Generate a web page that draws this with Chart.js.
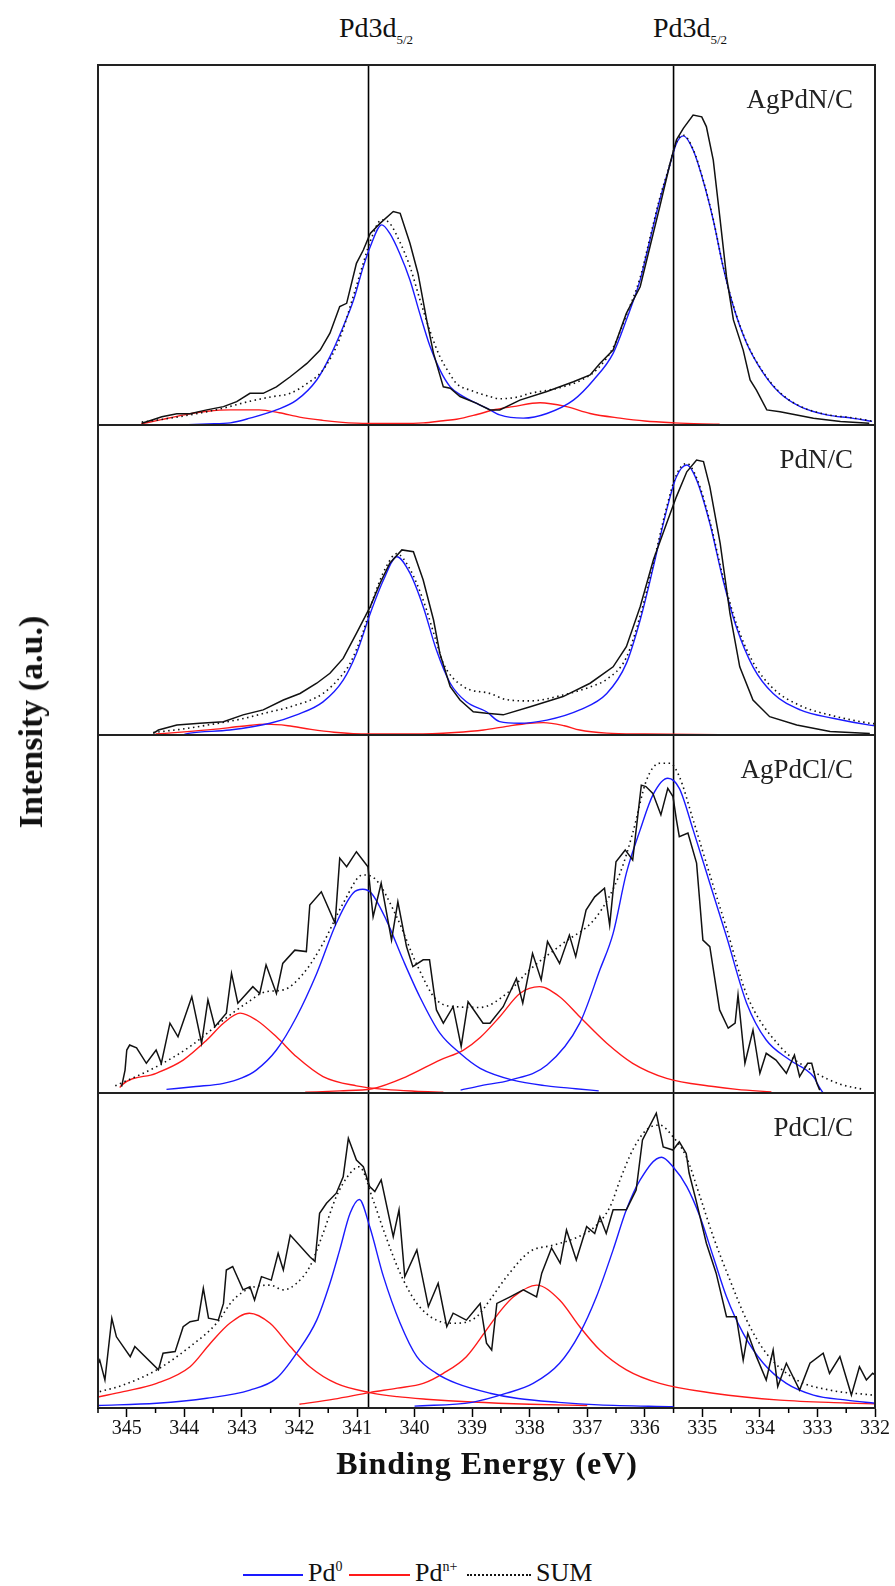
<!DOCTYPE html>
<html>
<head>
<meta charset="utf-8">
<title>Pd3d XPS spectra</title>
<script src="https://cdn.jsdelivr.net/npm/chart.js@4.4.1/dist/chart.umd.min.js"></script>
<style>
  body { margin: 0; background: #fff; }
  #page { position: relative; width: 895px; height: 1586px; overflow: hidden;
          font-family: "Liberation Serif", "Times New Roman", serif; color: #111; }
  canvas.panel { position: absolute; left: 0; }
  .txt { position: absolute; white-space: nowrap; line-height: 1; }
  .lg-line { position: absolute; height: 0; }
</style>
</head>
<body>
<div id="page">
  <canvas class="panel" id="p1"></canvas>
  <canvas class="panel" id="p2"></canvas>
  <canvas class="panel" id="p3"></canvas>
  <canvas class="panel" id="p4"></canvas>

  <div class="txt" style="left:376px;top:30px;font-size:28px;transform:translate(-50%,-50%)">Pd3d<sub style="font-size:13px">5/2</sub></div>
  <div class="txt" style="left:690px;top:30px;font-size:28px;transform:translate(-50%,-50%)">Pd3d<sub style="font-size:13px">5/2</sub></div>

  <div class="txt" id="yTitle" style="left:31px;top:722px;font-size:34px;font-weight:bold;transform:translate(-50%,-50%) rotate(-90deg)">Intensity (a.u.)</div>
  <div class="txt" id="xTitle" style="left:487px;top:1463px;font-size:32px;font-weight:bold;letter-spacing:1px;transform:translate(-50%,-50%)">Binding Energy (eV)</div>

  <div class="lg-line" style="left:243px;top:1574px;width:60px;border-top:2px solid #1a1aff"></div>
  <div class="txt" style="left:308px;top:1560px;font-size:26px">Pd<sup style="font-size:14px">0</sup></div>
  <div class="lg-line" style="left:349px;top:1574px;width:61px;border-top:2px solid #ff1a1a"></div>
  <div class="txt" style="left:415px;top:1560px;font-size:26px">Pd<sup style="font-size:14px">n+</sup></div>
  <div class="lg-line" style="left:467px;top:1574px;width:64px;border-top:2px dotted #111"></div>
  <div class="txt" style="left:536px;top:1560px;font-size:26px">SUM</div>
</div>

<script>
/* ---- axis / layout values ---- */
const xMin = 332, xMax = 345.5;
const refLines = [340.8, 335.5];
const panelNames = ['AgPdN/C', 'PdN/C', 'AgPdCl/C', 'PdCl/C'];

/* ---- data: [binding energy eV, intensity % of panel] ---- */
// panel 1  AgPdN/C
const p1Raw = [[344.74,0.5],[344.6,1.2],[344.39,2.3],[344.13,3.1],[343.90,3.1],[343.61,4.2],[343.32,5.1],[343.09,6.5],[342.86,8.8],[342.63,8.8],[342.40,10.6],[342.16,13.4],[342.05,14.8],[341.87,17.1],[341.64,20.8],[341.47,25.5],[341.30,32.9],[341.18,33.8],[341.01,44.9],[340.89,48.6],[340.77,53.2],[340.60,56.0],[340.37,59.3],[340.25,58.8],[340.08,50.5],[339.94,42.1],[339.79,29.2],[339.67,19.9],[339.50,10.6],[339.38,10.2],[339.21,7.9],[338.92,6.0],[338.69,4.2],[338.52,4.2],[338.17,6.9],[337.70,9.3],[337.24,12.0],[336.95,13.9],[336.78,17.1],[336.55,20.8],[336.32,31.0],[336.08,38.4],[335.91,49.5],[335.74,60.6],[335.56,72.7],[335.45,79.2],[335.33,82.4],[335.16,86.1],[335.01,85.6],[334.93,82.9],[334.81,73.6],[334.69,56.9],[334.58,41.2],[334.46,29.2],[334.29,20.8],[334.17,12.5],[334.06,9.7],[333.88,4.2],[333.65,3.7],[333.36,2.8],[333.07,1.9],[332.6,1.0],[332.1,0.5]];
const p1Pd0 = [[344.1,0],[343.6,0.3],[343.2,0.6],[342.86,1.9],[342.40,4.2],[342.05,6.9],[341.70,12.5],[341.47,19.0],[341.24,27.3],[341.06,34.7],[340.89,44.0],[340.77,49.5],[340.57,55.6],[340.43,53.2],[340.26,47.7],[340.08,40.3],[339.91,31.0],[339.73,21.8],[339.56,15.3],[339.38,10.6],[339.15,7.9],[338.92,6.0],[338.69,4.2],[338.52,2.8],[338.11,1.9],[337.70,3.2],[337.24,6.9],[336.89,12.5],[336.55,19.9],[336.32,29.2],[336.08,40.3],[335.91,51.4],[335.74,62.5],[335.59,70.8],[335.45,78.2],[335.33,80.3],[335.16,76.4],[334.99,68.1],[334.81,56.9],[334.64,44.0],[334.46,32.9],[334.23,22.7],[333.94,14.4],[333.65,8.8],[333.30,5.1],[332.84,2.8],[332.4,1.9],[332.05,1.0]];
const p1Pdn = [[344.75,0.3],[344.4,1.5],[344.0,2.8],[343.6,3.8],[343.2,4.2],[342.7,4.2],[342.35,3.4],[342.0,2.2],[341.6,1.3],[341.3,0.8],[340.8,0.4],[340.2,0.4],[339.85,0.6],[339.5,1.2],[339.27,1.6],[338.9,3.0],[338.6,4.3],[338.29,5.1],[337.82,6.2],[337.36,5.1],[336.95,3.2],[336.43,1.9],[336.0,1.1],[335.5,0.6],[335.0,0.3],[334.7,0.2]];
const p1Sum = [[344.74,0.8],[344.2,2.0],[343.7,3.4],[343.32,4.7],[342.86,6.6],[342.5,7.8],[342.16,8.8],[341.87,11.5],[341.59,15.3],[341.3,24],[341.06,36],[340.89,45],[340.77,51],[340.57,57],[340.43,56],[340.26,51],[340.08,44],[339.91,35],[339.73,26],[339.56,19],[339.38,14],[339.27,11.5],[339.0,9.5],[338.69,7.9],[338.52,7.3],[338.2,7.8],[337.99,8.8],[337.7,9.6],[337.42,10.6],[337.1,12.5],[336.84,15.3],[336.55,21.5],[336.32,30.5],[336.08,41],[335.91,52],[335.74,63],[335.59,71],[335.45,78.5],[335.33,80.5],[335.16,76.6],[334.99,68.3],[334.81,57.1],[334.64,44.2],[334.46,33.1],[334.23,22.9],[333.94,14.6],[333.65,9.0],[333.30,5.2],[332.84,2.9],[332.4,2.0],[332.05,1.1]];

// panel 2  PdN/C
const p2Raw = [[344.54,0.5],[344.45,1.6],[344.13,3.2],[343.73,3.8],[343.32,4.3],[342.98,6.5],[342.63,8.1],[342.28,11.3],[341.99,13.4],[341.70,16.7],[341.47,19.9],[341.24,24.7],[341.01,32.8],[340.77,41.4],[340.60,48.9],[340.43,55.4],[340.22,59.7],[340.02,59.1],[339.85,50.0],[339.67,37.1],[339.56,26.3],[339.38,15.6],[339.21,11.3],[338.98,7.5],[338.75,7.0],[338.46,6.5],[337.99,9.1],[337.42,12.4],[336.95,16.7],[336.55,22.0],[336.32,28.5],[336.08,41.4],[335.85,56.5],[335.62,68.3],[335.45,76.9],[335.27,84.9],[335.10,88.7],[334.98,88.2],[334.87,80.1],[334.69,61.8],[334.52,39.2],[334.35,22.0],[334.12,11.3],[333.83,5.9],[333.36,3.2],[332.78,1.1],[332.09,0.5]];
const p2Pd0 = [[344.0,0.2],[343.9,0.6],[343.21,1.6],[342.51,3.8],[342.05,6.5],[341.59,10.7],[341.24,17.7],[341.01,26.3],[340.77,39.2],[340.54,50.0],[340.31,57.5],[340.08,52.2],[339.85,41.4],[339.62,27.4],[339.38,16.7],[339.10,10.7],[338.75,7.5],[338.52,4.3],[338.17,3.8],[337.70,4.8],[337.13,8.1],[336.66,13.4],[336.32,23.1],[336.08,37.1],[335.85,54.3],[335.62,72.6],[335.45,83.3],[335.27,87.1],[335.10,82.3],[334.87,68.3],[334.64,50.0],[334.41,34.9],[334.12,22.0],[333.77,13.4],[333.30,8.1],[332.73,5.4],[332.09,3.2],[332.0,3.0]];
const p2Pdn = [[344.5,0.3],[344.0,1.0],[343.5,1.8],[343.0,2.8],[342.57,3.5],[342.2,3.0],[341.8,1.8],[341.4,0.9],[340.8,0.3],[340.0,0.3],[339.3,0.8],[338.8,1.6],[338.4,2.8],[338.0,3.8],[337.76,4.0],[337.4,3.0],[337.13,1.6],[336.66,0.6],[336.0,0.3],[334.7,0.1]];
const p2Sum = [[344.54,0.8],[344.0,2.0],[343.5,3.5],[343.0,5.2],[342.57,7.2],[342.16,9.1],[341.59,13.4],[341.3,18.5],[341.12,23.1],[340.9,33],[340.7,45],[340.5,54],[340.31,58.5],[340.08,53.5],[339.85,43.5],[339.62,30],[339.50,23.1],[339.15,15.6],[338.69,13.4],[338.4,11.4],[337.99,11.0],[337.42,12.9],[336.95,15.5],[336.66,18],[336.32,25],[336.08,38.5],[335.85,55.5],[335.62,73.5],[335.45,84],[335.27,87.6],[335.10,83],[334.87,69],[334.64,51],[334.41,36],[334.12,23.5],[333.77,15],[333.30,9.5],[332.73,6.2],[332.09,3.8],[332.0,3.6]];

// panel 3  AgPdCl/C
const p3Raw = [[345.09,1.8],[345.03,6.4],[345.0,12.0],[344.95,13.4],[344.83,12.6],[344.66,8.3],[344.49,12.0],[344.40,8.3],[344.25,19.5],[344.11,15.7],[343.87,26.9],[343.70,13.9],[343.59,26.0],[343.47,18.5],[343.27,22.3],[343.18,33.4],[343.07,25.1],[342.81,29.7],[342.69,27.8],[342.58,35.8],[342.40,27.8],[342.29,36.2],[342.08,39.9],[341.88,39.5],[341.82,52.5],[341.62,56.2],[341.38,47.4],[341.30,65.6],[341.18,63.2],[341.01,67.4],[340.81,63.2],[340.72,49.2],[340.58,58.6],[340.40,42.7],[340.29,53.4],[340.14,40.9],[340.03,35.3],[339.85,37.2],[339.74,37.2],[339.62,23.2],[339.50,19.5],[339.33,24.1],[339.19,13.0],[339.07,25.5],[338.81,19.5],[338.69,19.5],[338.46,24.1],[338.23,32.0],[338.12,25.1],[337.95,39.0],[337.80,31.6],[337.69,42.3],[337.48,36.2],[337.31,44.1],[337.20,38.1],[337.02,51.1],[336.87,54.8],[336.70,57.2],[336.61,46.9],[336.50,64.6],[336.34,67.9],[336.21,65.1],[336.15,73.5],[336.06,86.0],[335.98,85.6],[335.86,83.7],[335.72,77.7],[335.60,85.1],[335.51,82.8],[335.45,76.3],[335.40,71.6],[335.25,72.6],[335.10,64.2],[334.99,42.7],[334.87,40.9],[334.70,23.2],[334.55,18.1],[334.43,19.5],[334.38,27.4],[334.26,8.3],[334.12,17.6],[334.0,5.5],[333.89,11.1],[333.72,9.2],[333.54,5.5],[333.40,10.6],[333.31,4.6],[333.17,8.3],[333.10,8.3],[333.01,2.7],[332.96,0.8]];
const p3Pd0a = [[344.31,1.0],[343.8,1.8],[343.32,2.7],[343.0,4.2],[342.75,6.4],[342.40,12.0],[342.05,21.3],[341.70,33.4],[341.36,47.4],[341.07,55.8],[340.90,56.9],[340.75,55.8],[340.49,48.3],[340.20,37.2],[339.91,26.9],[339.56,16.7],[339.21,11.1],[338.86,6.9],[338.29,3.6],[337.7,2.0],[337.2,1.2],[336.8,0.6]];
const p3Pd0b = [[339.2,0.8],[338.86,2.0],[338.34,3.6],[337.70,7.8],[337.13,19.5],[336.78,34.4],[336.55,44.6],[336.32,61.4],[336.08,73.5],[335.86,83.2],[335.60,87.9],[335.40,85.1],[335.16,73.5],[334.87,58.6],[334.58,43.7],[334.23,25.1],[333.89,14.8],[333.48,9.2],[333.07,4.6],[332.96,1.4],[332.9,0]];
const p3PdnA = [[345.12,1.5],[345.09,2.2],[344.49,5.5],[344.02,9.2],[343.61,14.8],[343.32,19.5],[343.03,22.3],[342.75,20.4],[342.40,15.7],[342.05,10.1],[341.59,4.6],[341.01,2.0],[340.5,1.0],[340.0,0.5],[339.5,0.2]];
const p3PdnB = [[341.9,0.2],[341.3,0.6],[340.74,1.2],[340.14,4.6],[339.56,9.2],[339.15,12.0],[338.86,15.5],[338.52,21.3],[338.17,27.8],[337.83,29.7],[337.48,26.9],[337.13,21.3],[336.66,13.9],[336.21,8.3],[335.62,4.1],[334.81,1.8],[334.4,1.0],[333.8,0.3]];
const p3Sum = [[345.2,2.0],[344.49,7.3],[343.90,13.0],[343.32,20.4],[342.92,25.1],[342.58,28.3],[342.28,28.8],[341.93,33.4],[341.59,41.8],[341.24,53.0],[340.90,60.9],[340.70,60.0],[340.31,49.2],[339.97,36.2],[339.62,26.0],[339.27,24.1],[338.86,23.9],[338.40,27.8],[338.0,34.4],[337.42,41.8],[336.84,49.2],[336.43,61.4],[336.21,72.6],[335.97,87.4],[335.74,92.1],[335.56,92.1],[335.40,88.4],[335.16,76.3],[334.87,61],[334.58,46],[334.23,27.5],[333.65,13.0],[333.07,6.0],[332.61,2.5],[332.2,1.0]];

// panel 4  PdCl/C
const p4Raw = [[345.5,14.0],[345.47,15.2],[345.38,8.9],[345.26,28.5],[345.18,22.6],[344.94,16.3],[344.86,19.5],[344.45,12.1],[344.37,17.4],[344.16,17.9],[344.02,25.8],[343.90,27.4],[343.76,27.9],[343.67,38.0],[343.58,28.5],[343.41,27.9],[343.32,33.2],[343.27,43.8],[343.16,44.9],[342.98,37.5],[342.86,38.5],[342.78,34.3],[342.66,41.7],[342.49,40.6],[342.37,49.1],[342.28,43.8],[342.16,54.9],[341.82,48.0],[341.73,46.5],[341.65,61.8],[341.53,65.0],[341.36,68.2],[341.24,73.4],[341.15,85.6],[341.01,78.7],[340.89,76.6],[340.78,70.3],[340.69,68.7],[340.58,72.4],[340.37,54.4],[340.27,62.9],[340.17,41.7],[339.96,50.2],[339.76,32.2],[339.59,39.6],[339.44,25.8],[339.33,30.1],[339.10,27.9],[338.86,33.2],[338.75,20.6],[338.66,18.4],[338.57,33.2],[338.34,35.3],[338.11,37.5],[337.88,35.3],[337.79,42.8],[337.62,50.8],[337.47,46.0],[337.36,56.5],[337.19,47.0],[337.01,57.6],[336.87,55.4],[336.78,60.7],[336.67,55.4],[336.55,62.9],[336.32,62.9],[336.15,69.2],[336.04,85.1],[335.80,93.6],[335.68,82.9],[335.51,81.9],[335.40,84.5],[335.28,80.8],[335.23,74.6],[335.11,66.0],[334.93,52.3],[334.76,42.8],[334.58,29.0],[334.41,29.0],[334.29,15.2],[334.21,23.7],[334.06,16.3],[333.89,8.9],[333.77,18.4],[333.69,6.8],[333.54,14.2],[333.31,5.7],[333.13,14.2],[332.90,17.4],[332.79,11.0],[332.61,16.3],[332.41,4.1],[332.27,13.1],[332.15,8.9],[332.04,11.0],[332.0,10.5]];
const p4Pd0a = [[345.5,0.8],[344.48,1.5],[343.61,3.1],[342.86,5.7],[342.40,9.4],[342.05,17.4],[341.70,27.9],[341.47,39.6],[341.30,50.2],[341.12,61.8],[340.96,66.2],[340.78,57.6],[340.54,41.7],[340.25,26.9],[339.96,16.3],[339.62,11.0],[339.27,7.8],[338.69,4.7],[338.2,3.0],[337.5,1.8],[336.8,1.0],[335.5,0.4]];
const p4Pd0b = [[340.0,0.6],[339.0,1.8],[338.40,4.7],[337.94,7.8],[337.48,14.2],[337.13,23.7],[336.84,35.3],[336.55,50.2],[336.32,62.9],[336.08,72.4],[335.71,79.6],[335.51,76.6],[335.27,70.3],[335.04,60.7],[334.81,48.0],[334.58,35.3],[334.29,23.7],[333.94,14.2],[333.54,7.8],[333.07,4.1],[332.49,2.5],[332.0,1.5]];
const p4PdnA = [[345.5,3.5],[345.06,5.2],[344.48,7.8],[343.90,13.1],[343.55,20.5],[343.21,26.9],[342.87,30.1],[342.51,26.9],[342.16,19.5],[341.82,13.1],[341.36,7.8],[340.78,4.9],[340.3,3.6],[339.8,2.8],[339.0,1.9],[338.0,1.2],[337.0,0.8]];
const p4PdnB = [[342.0,1.2],[341.4,2.8],[340.78,4.9],[340.3,6.3],[339.85,7.8],[339.50,11.0],[339.10,16.3],[338.75,24.8],[338.5,31.0],[338.28,35.3],[337.88,39.0],[337.48,34.3],[337.13,25.8],[336.78,18.4],[336.32,12.1],[335.74,7.8],[334.81,4.7],[333.65,2.5],[332.5,1.6],[332.0,1.3]];
const p4Sum = [[345.47,5.2],[345.06,7.3],[344.48,12.1],[343.90,19.5],[343.44,26.9],[343.15,34.3],[342.86,38.0],[342.51,39.0],[342.28,37.5],[342.05,39.6],[341.82,44.9],[341.59,55.4],[341.36,67.1],[341.12,74.5],[340.96,76.6],[340.72,66.0],[340.54,56.5],[340.25,42.8],[339.96,33.2],[339.62,27.9],[339.27,26.9],[338.92,29.0],[338.69,34.3],[338.40,41.7],[338.0,49.6],[337.59,51.7],[337.2,54.0],[336.87,57.5],[336.6,64.0],[336.43,72.4],[336.21,81.9],[335.97,88.3],[335.74,89.8],[335.51,86.1],[335.28,79.8],[335.04,67.1],[334.81,54.4],[334.52,40.6],[334.23,27.9],[333.89,17.4],[333.36,8.9],[332.79,5.7],[332.04,4.1]];

/* ---- panel geometry (page px) ---- */
const panelTops = [65, 425, 735, 1093];
const panelHeights = [360, 310, 358, 315];
const plotLeft = 98, plotRight = 875, pageW = 895, pad = 3, axisH = 60;

const BLUE = '#1a1aff', RED = '#ff1a1a', BLACK = '#111';

const toXY = arr => arr.map(([x, y]) => ({ x, y }));

function raw(d)  { return { data: toXY(d), borderColor: BLACK, borderWidth: 1.5, tension: 0, order: 0 }; }
function sum(d)  { return { data: toXY(d), borderColor: BLACK, borderWidth: 1.6, borderDash: [1.5, 3.5], cubicInterpolationMode: 'monotone', order: 1 }; }
function pd0(d)  { return { data: toXY(d), borderColor: BLUE, borderWidth: 1.4, cubicInterpolationMode: 'monotone', order: 2 }; }
function pdn(d)  { return { data: toXY(d), borderColor: RED, borderWidth: 1.4, cubicInterpolationMode: 'monotone', order: 3 }; }

const panelSets = [
  [raw(p1Raw), sum(p1Sum), pd0(p1Pd0), pdn(p1Pdn)],
  [raw(p2Raw), sum(p2Sum), pd0(p2Pd0), pdn(p2Pdn)],
  [raw(p3Raw), sum(p3Sum), pd0(p3Pd0a), pd0(p3Pd0b), pdn(p3PdnA), pdn(p3PdnB)],
  [raw(p4Raw), sum(p4Sum), pd0(p4Pd0a), pd0(p4Pd0b), pdn(p4PdnA), pdn(p4PdnB)]
];

/* frame, reference lines, panel name, minor ticks */
const framePlugin = {
  id: 'frame',
  beforeDatasetsDraw(chart) {
    const { ctx, chartArea: a, scales: { x } } = chart;
    ctx.save();
    ctx.strokeStyle = '#000';
    ctx.lineWidth = 1.6;
    refLines.forEach(v => {
      const px = x.getPixelForValue(v);
      ctx.beginPath(); ctx.moveTo(px, a.top); ctx.lineTo(px, a.bottom); ctx.stroke();
    });
    ctx.restore();
  },
  afterDraw(chart, args, opts) {
    const { ctx, chartArea: a, scales: { x } } = chart;
    ctx.save();
    ctx.strokeStyle = '#222';
    ctx.lineWidth = 2;
    ctx.strokeRect(a.left, a.top, a.right - a.left, a.bottom - a.top);
    // sample name, top right
    ctx.fillStyle = '#222';
    ctx.font = '27px "Liberation Serif", serif';
    ctx.textAlign = 'right';
    ctx.textBaseline = 'alphabetic';
    ctx.fillText(opts.name, 853, a.top + 43);
    if (opts.minor) {
      ctx.strokeStyle = '#000';
      ctx.lineWidth = 1.5;
      x.ticks.forEach(t => {
        const v = t.value + 0.5;
        if (v > xMax) return;
        const px = x.getPixelForValue(v);
        ctx.beginPath(); ctx.moveTo(px, a.bottom); ctx.lineTo(px, a.bottom + 5); ctx.stroke();
      });
    }
    ctx.restore();
  }
};

panelSets.forEach((sets, i) => {
  const last = i === panelSets.length - 1;
  const cv = document.getElementById('p' + (i + 1));
  const h = panelHeights[i] + pad + (last ? axisH : pad);
  cv.width = pageW;
  cv.height = h;
  cv.style.top = (panelTops[i] - pad) + 'px';

  const xScale = {
    type: 'linear', min: xMin, max: xMax, reverse: true,
    display: last,
    border: { display: true, color: '#000', width: 2 },
    grid: { drawOnChartArea: false, drawTicks: true, tickLength: 9, tickWidth: 1.5, tickColor: '#000' },
    ticks: {
      stepSize: 1, includeBounds: false, autoSkip: false, maxRotation: 0, padding: 0,
      color: '#111', font: { family: '"Liberation Serif", serif', size: 20 },
      callback: v => String(v)
    }
  };
  if (last) xScale.afterFit = s => { s.height = axisH; };

  new Chart(cv, {
    type: 'line',
    data: { datasets: sets },
    options: {
      responsive: false,
      animation: false,
      devicePixelRatio: 1,
      layout: { padding: { left: plotLeft, right: pageW - plotRight, top: pad, bottom: last ? 0 : pad } },
      elements: { point: { radius: 0 } },
      plugins: {
        legend: { display: false },
        tooltip: { enabled: false },
        frame: { name: panelNames[i], minor: last }
      },
      scales: {
        x: xScale,
        y: { type: 'linear', min: 0, max: 100, display: false }
      }
    },
    plugins: [framePlugin]
  });
});
</script>
</body>
</html>
